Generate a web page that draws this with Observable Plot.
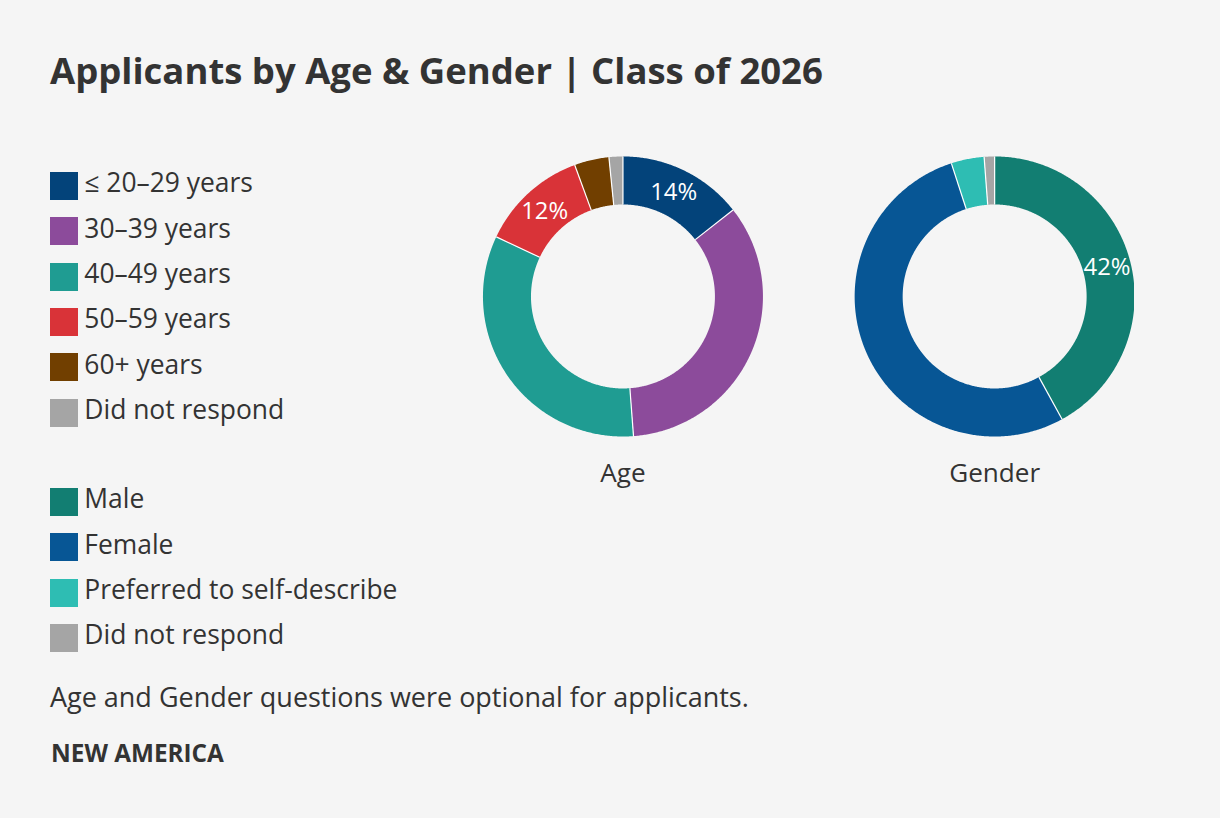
<!DOCTYPE html>
<html><head><meta charset="utf-8">
<script src="https://cdn.jsdelivr.net/npm/d3@7"></script>
<script src="https://cdn.jsdelivr.net/npm/@observablehq/plot@0.6"></script>
<style>
html,body{margin:0;padding:0;background:#f5f5f5;}
#page{position:relative;width:1220px;height:818px;background:#f5f5f5;font-family:"Open Sans",Lato,sans-serif;color:#333;overflow:hidden;}
.txt{position:absolute;margin:0;line-height:1;white-space:nowrap;color:#333;}
.sw{position:absolute;left:50px;width:28px;height:28px;}
#chart{position:absolute;left:470px;top:140px;width:664px;height:360px;overflow:hidden;}
</style></head>
<body><div id="page">
<div id="chart"></div>
</div>
<script>
// ---- data ----
const titleText = "Applicants by Age & Gender | Class of 2026";
const captionText = "Age and Gender questions were optional for applicants.";
const sourceText = "NEW AMERICA";

const ageCategories = ["≤ 20–29 years", "30–39 years", "40–49 years", "50–59 years", "60+ years", "Did not respond"];
const ageValues = [14.4, 34.4, 33.2, 12.4, 4.0, 1.6];
const ageColors = ["#03437a", "#8c4b9b", "#1f9c92", "#d93338", "#713f00", "#a5a5a5"];
const ageLabelled = [true, false, false, true, false, false];

const genderCategories = ["Male", "Female", "Preferred to self-describe", "Did not respond"];
const genderValues = [42.0, 53.0, 3.8, 1.2];
const genderColors = ["#127e72", "#075695", "#2ebdb3", "#a5a5a5"];
const genderLabelled = [true, false, false, false];

const chartNames = ["Age", "Gender"];

// ---- font sizing helpers ----
const FAMILY = '"Open Sans"';
const ctx = document.createElement("canvas").getContext("2d");
function fitSize(text, weight, target) {
  ctx.font = `${weight} 100px ${FAMILY}`;
  return 100 * target / ctx.measureText(text).width;
}
const page = document.getElementById("page");
function addText(text, left, baseline, size, weight) {
  const el = document.createElement("div");
  el.className = "txt";
  el.style.left = left + "px";
  el.style.top = "0px";
  el.style.fontSize = size + "px";
  el.style.fontWeight = weight;
  el.textContent = text;
  const m = document.createElement("span");
  m.style.cssText = "display:inline-block;width:0;height:0;vertical-align:baseline";
  el.appendChild(m);
  page.appendChild(el);
  const b = m.getBoundingClientRect().top - page.getBoundingClientRect().top;
  el.style.top = (baseline - b) + "px";
  return el;
}

const titleSize = fitSize(titleText, 700, 773);
const legendSize = fitSize("Did not respond", 400, 200);
const captionSize = fitSize(captionText, 400, 699);
const sourceSize = fitSize(sourceText, 700, 173);
const nameSize = fitSize("Gender", 400, 91);
const pctSize = fitSize("14%", 400, 47);

addText(titleText, 50, 84, titleSize, 700);
addText(captionText, 50, 707.3, captionSize, 400);
addText(sourceText, 51, 761.7, sourceSize, 700);

// ---- layout ----
const R_OUT = 1, R_IN = 0.657, PX = 140;
const centersX = [0, 2.655];

function ring(name, cats, vals, labelled, cx) {
  const arcs = d3.pie().sort(null).value(d => d).startAngle(0).endAngle(2 * Math.PI)(vals);
  const pts = [], seps = [], labels = [];
  arcs.forEach((a, i) => {
    const key = name + "-" + i;
    const n = Math.max(2, Math.ceil((a.endAngle - a.startAngle) / (Math.PI / 360)));
    for (let k = 0; k <= n; k++) {
      const t = a.startAngle + (a.endAngle - a.startAngle) * k / n;
      pts.push({key, cat: cats[i], x: cx + R_OUT * Math.sin(t), y: R_OUT * Math.cos(t)});
    }
    for (let k = n; k >= 0; k--) {
      const t = a.startAngle + (a.endAngle - a.startAngle) * k / n;
      pts.push({key, cat: cats[i], x: cx + R_IN * Math.sin(t), y: R_IN * Math.cos(t)});
    }
    const s = a.startAngle;
    seps.push({x1: cx + R_IN * Math.sin(s), y1: R_IN * Math.cos(s), x2: cx + R_OUT * Math.sin(s), y2: R_OUT * Math.cos(s)});
    if (labelled[i]) {
      const m = (a.startAngle + a.endAngle) / 2, r = (R_IN + R_OUT) / 2;
      labels.push({x: cx + r * Math.sin(m), y: r * Math.cos(m), text: Math.round(vals[i]) + "%"});
    }
  });
  return {pts, seps, labels};
}

const age = ring("age", ageCategories, ageValues, ageLabelled, centersX[0]);
const gender = ring("gender", genderCategories, genderValues, genderLabelled, centersX[1]);
const pts = age.pts.concat(gender.pts);
const seps = age.seps.concat(gender.seps);
const labels = age.labels.concat(gender.labels);
// name baseline at page y 481.7; donut centre at page y 296 (y up in data units)
const nameY = (296 - (481.7 - 0.32 * nameSize)) / PX;
const names = chartNames.map((n, i) => ({x: centersX[i], y: nameY, text: n}));

const colorDomain = [], colorRange = [];
[[ageCategories, ageColors], [genderCategories, genderColors]].forEach(([c, k]) => {
  c.forEach((d, i) => { if (!colorDomain.includes(d)) { colorDomain.push(d); colorRange.push(k[i]); } });
});

const plot = Plot.plot({
  width: 664, height: 360, margin: 0,
  x: {domain: [-1.089, 3.654], axis: null},
  y: {domain: [-1.457, 1.114], axis: null},
  color: {domain: colorDomain, range: colorRange},
  style: {background: "transparent", fontFamily: FAMILY, overflow: "hidden"},
  marks: [
    Plot.line(pts, {x: "x", y: "y", z: "key", fill: "cat", stroke: "none", curve: "linear-closed"}),
    Plot.link(seps, {x1: "x1", y1: "y1", x2: "x2", y2: "y2", stroke: "white", strokeWidth: 1.2}),
    Plot.text(labels, {x: "x", y: "y", text: "text", fill: "white", fontSize: pctSize}),
    Plot.text(names, {x: "x", y: "y", text: "text", fill: "#333", fontSize: nameSize})
  ]
});
document.getElementById("chart").appendChild(plot);

// ---- legend ----
function addLegend(cats, start) {
  cats.forEach((c, i) => {
    const top = start + i * 45.3;
    const sw = document.createElement("div");
    sw.className = "sw";
    sw.style.top = top + "px";
    sw.style.background = colorRange[colorDomain.indexOf(c)];
    page.appendChild(sw);
    addText(c, 84.3, top + 20.3, legendSize, 400);
  });
}
addLegend(ageCategories, 172);
addLegend(genderCategories, 488);
</script>
</body></html>
